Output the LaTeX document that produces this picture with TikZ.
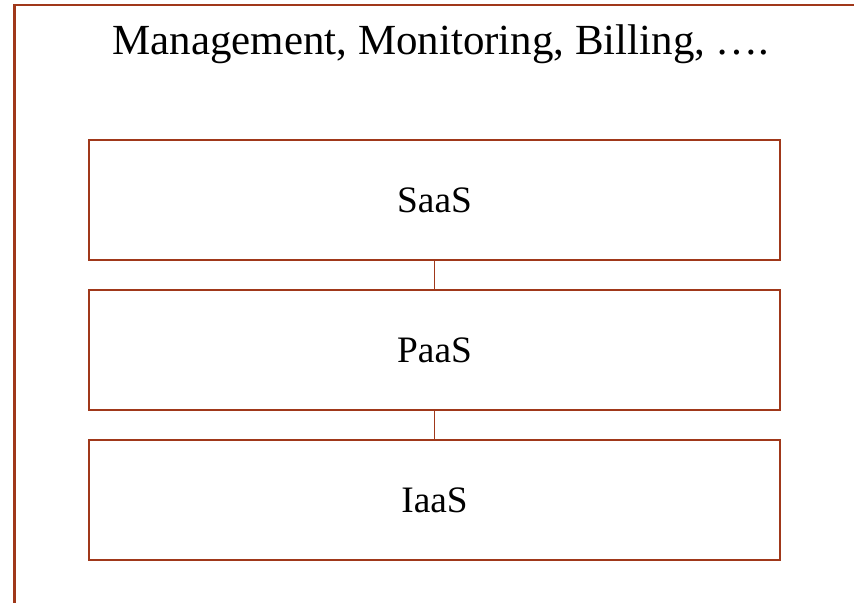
\documentclass[tikz,border=0pt]{standalone}
\usepackage{fontspec}
\setmainfont{Liberation Serif}
\definecolor{frame}{RGB}{160,56,26}
\begin{document}
\begin{tikzpicture}[x=0.75pt,y=-0.75pt,
  layer/.style={draw=frame,line width=2pt,minimum width=691*0.75pt,minimum height=120*0.75pt,inner sep=0pt,font=\fontsize{28}{32}\selectfont},
  link/.style={draw=frame,line width=1.1pt}]
\useasboundingbox (0,0) rectangle (854,603);
\coordinate (fb) at (14.5,605);
\coordinate (ftl) at (14.5,5);
\coordinate (ftr) at (856,5);
\draw[frame,line width=2pt] (fb) -- (ftl) -- (ftr);
\node[anchor=base,font=\fontsize{32.2}{36}\selectfont,inner sep=0pt] (title) at (441,55) {Management, Monitoring, Billing, \dots.};
\node[layer] (saas) at (434.5,200) {SaaS};
\node[layer] (paas) at (434.5,350) {PaaS};
\node[layer] (iaas) at (434.5,500) {IaaS};
\draw[link] (saas.south) -- (paas.north);
\draw[link] (paas.south) -- (iaas.north);
\end{tikzpicture}
\end{document}
